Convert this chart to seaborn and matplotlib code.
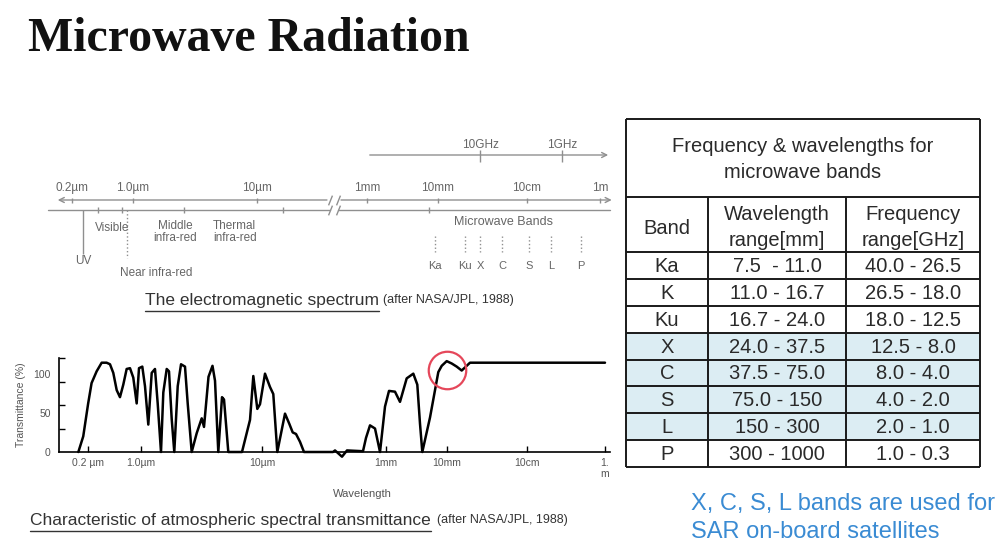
import numpy as np
import matplotlib.pyplot as plt
import seaborn as sns
from matplotlib.lines import Line2D
from matplotlib.ticker import FixedLocator

sns.set_theme(style="white")
plt.rcParams["font.family"] = ["Liberation Sans", "DejaVu Sans"]

# Atmospheric spectral transmittance (after NASA/JPL, 1988), wavelength in um
wavelength_um = [0.149, 0.173, 0.201, 0.223, 0.260, 0.303, 0.352, 0.390, 0.431, 0.478,
                 0.528, 0.584, 0.647, 0.716, 0.791, 0.877, 0.941, 1.025, 1.079, 1.149,
                 1.226, 1.305, 1.374, 1.463, 1.529, 1.631, 1.704, 1.794, 1.884, 2.011,
                 2.142, 2.310, 2.432, 2.624, 2.886, 3.175, 3.317, 3.613, 3.898, 4.089,
                 4.353, 4.672, 4.853, 5.267, 6.834, 7.960, 8.477, 9.145, 9.627, 11.18,
                 13.46, 15.21, 17.65, 23.50, 27.56, 31.27, 35.36, 41.02, 47.58, 139.7,
                 150.5, 195.1, 235.0, 425.6, 475.8, 552.0, 664.7, 800.6, 963.6, 1120,
                 1404, 1696, 2184, 2803, 3260, 3610, 3937, 5264, 7201, 8188,
                 9888, 11450, 13220, 15270, 16790, 19390, 1000000]
transmittance = [0, 20, 62, 88, 103, 114, 114, 112, 101, 79,
                 70, 86, 106, 107, 95, 62, 107, 109, 84, 35,
                 101, 106, 62, 0, 76, 106, 103, 42, 0, 84,
                 112, 109, 62, 0, 24, 43, 32, 96, 110, 91,
                 0, 70, 67, 0, 0, 41, 97, 55, 61, 100,
                 83, 74, 0, 49, 36, 25, 23, 13, 0, 0,
                 2, -6, 2, 1, 18, 34, 30, 0, 58, 78,
                 77, 64, 94, 100, 86, 36, 0, 44, 102, 110,
                 116, 113, 109, 104, 108, 114, 114]

highlight_um = 1e4
highlight_pct = 105

curve_ticks_um = [0.2, 1, 10, 1e3, 1e4, 1e5, 1e6]
curve_tick_labels = ["0.2 µm", "1.0µm", "10µm", "1mm", "10mm", "10cm", "1.\nm"]

# electromagnetic spectrum diagram
spec_ticks_um = [0.2, 1, 10, 1e3, 1e4, 1e5, 1e6]
spec_tick_labels = ["0.2µm", "1.0µm", "10µm", "1mm", "10mm", "10cm", "1m"]
freq_ghz = [10, 1]
freq_labels = ["10GHz", "1GHz"]
region_edges_um = [0.4, 0.75, 2.6, 30, 7500]
uv_um = 0.27
near_ir_um = 0.85
region_names = ["Visible", "Middle\ninfra-red", "Thermal\ninfra-red"]
region_mid_um = [0.57, 2.2, 6.6]

# microwave bands table
bands = ["Ka", "K", "Ku", "X", "C", "S", "L", "P"]
band_wl_mm = [(7.5, 11.0), (11.0, 16.7), (16.7, 24.0), (24.0, 37.5),
              (37.5, 75.0), (75.0, 150), (150, 300), (300, 1000)]
wl_range_text = ["7.5  - 11.0", "11.0 - 16.7", "16.7 - 24.0", "24.0 - 37.5",
                 "37.5 - 75.0", "75.0 - 150", "150 - 300", "300 - 1000"]
freq_range_text = ["40.0 - 26.5", "26.5 - 18.0", "18.0 - 12.5", "12.5 - 8.0",
                   "8.0 - 4.0", "4.0 - 2.0", "2.0 - 1.0", "1.0 - 0.3"]
sar_bands = ["X", "C", "S", "L"]

W, H = 1004, 548
fig = plt.figure(figsize=(W / 100, H / 100), dpi=100)
fig.patch.set_facecolor("white")


def box(x0, y0, x1, y1):
    return [x0 / W, 1 - y1 / H, (x1 - x0) / W, (y1 - y0) / H]


def wl_scale(logs, pos):
    # piecewise log scale, like the hand drawn axes of the original figure
    def fwd(w):
        return np.interp(np.log10(np.maximum(w, 1e-9)), logs, pos)

    def inv(p):
        return 10 ** np.interp(p, pos, logs)
    return fwd, inv


def underline(t, gap=3):
    fig.canvas.draw()
    bb = t.get_window_extent().transformed(fig.transFigure.inverted())
    fig.add_artist(Line2D([bb.x0, bb.x1], [bb.y0 - gap / H, bb.y0 - gap / H],
                          transform=fig.transFigure, color=t.get_color(), lw=1.0))
    return bb


fig.text(28 / W, 1 - 51 / H, "Microwave Radiation", family="Liberation Serif",
         fontweight="bold", fontsize=34.5, color="#111", va="baseline")

# ---- electromagnetic spectrum ----
gray = "#8f8f8f"
tgray = "#666666"
sfont = 8.5
sx = fig.add_axes(box(46, 135, 615, 290))
sx.set_xscale("function", functions=wl_scale([-1.0, np.log10(0.2), 0, 1, 3, 4, 5, 6, 6.2],
                                             [46, 72, 133, 257, 367, 438, 527, 600, 615]))
sx.set_xlim(10 ** -1.0, 10 ** 6.2)
sx.set_ylim(290, 135)
sx.axis("off")

arrow = dict(arrowstyle="->", color=gray, lw=1.0, mutation_scale=9)
break_um = (210, 300)
sx.annotate("", xy=(0.127, 200), xytext=(break_um[0], 200), arrowprops=arrow)
sx.annotate("", xy=(1.56e6, 200), xytext=(break_um[1], 200), arrowprops=arrow)
sx.plot([0.106, break_um[0]], [210, 210], color=gray, lw=1.0)
sx.plot([break_um[1], 1.37e6], [210, 210], color=gray, lw=1.0)
sx.plot(list(break_um) * 2, [200, 200, 210, 210], ls="none", marker=[(-0.4, -1), (0.4, 1)],
        ms=7, mec=gray, mew=1.0)
sx.vlines(spec_ticks_um, 198, 203, color=gray, lw=1.0)
for w, lab in zip(spec_ticks_um, spec_tick_labels):
    sx.text(w, 188, lab, ha="center", va="center", fontsize=sfont, color=tgray)

freq_um = 3e5 / np.array(freq_ghz)
sx.annotate("", xy=(1.4e6, 155), xytext=(1e3, 155), arrowprops=arrow)
sx.vlines(freq_um, 150, 162, color=gray, lw=1.0)
for w, lab in zip(freq_um, freq_labels):
    sx.text(w, 145, lab, ha="center", va="center", fontsize=sfont, color=tgray)

sx.vlines(region_edges_um, 207, 213, color=gray, lw=1.0)
sx.vlines(uv_um, 210, 254, color=gray, lw=1.0)
sx.text(uv_um, 261, "UV", ha="center", va="center", fontsize=sfont, color=tgray)
sx.vlines(near_ir_um, 210, 258, color=gray, lw=1.0, linestyles=":")
sx.text(1.53, 273, "Near infra-red", ha="center", va="center", fontsize=sfont, color=tgray)
for w, lab in zip(region_mid_um, region_names):
    sx.text(w, 232 if "\n" in lab else 228, lab, ha="center", va="center", fontsize=sfont,
            color=tgray, linespacing=1.0)

sx.text(5.4e4, 222, "Microwave Bands", ha="center", va="center", fontsize=9, color=tgray)
for b, (lo, hi) in zip(bands, band_wl_mm):
    if b == "K":
        continue
    c = np.sqrt(lo * hi) * 1000
    sx.vlines(c, 236, 252, color=gray, lw=1.0, linestyles=":")
    sx.text(c, 266, b, ha="center", va="center", fontsize=8, color=tgray)

t1 = fig.text(145 / W, 1 - 300 / H, "The electromagnetic spectrum", fontsize=12.5,
              color="#333", va="center")
bb = underline(t1)
fig.text(bb.x1 + 4 / W, 1 - 300 / H, "(after NASA/JPL, 1988)", fontsize=9, color="#333",
         va="center")

# ---- atmospheric transmittance ----
ax = fig.add_axes(box(59, 358, 610, 452))
ax.set_xscale("function", functions=wl_scale([-1.083, np.log10(0.2), 0, 1, 3, 4, 5, 6, 6.064],
                                             [59, 88, 141, 262, 386, 447, 527, 605, 610]))
sns.lineplot(x=wavelength_um, y=transmittance, ax=ax, color="black", lw=1.8,
             sort=False, estimator=None)
ax.lines[-1].set_clip_on(False)
ax.plot(highlight_um, highlight_pct, "o", ms=27, mfc="none", mec="#e5475a", mew=1.6,
        clip_on=False)
ax.set_xlim(10 ** -1.083, 10 ** 6.064)
ax.set_ylim(0, 120)
ax.set_facecolor("none")
for s in ["top", "right"]:
    ax.spines[s].set_visible(False)
for s in ["left", "bottom"]:
    ax.spines[s].set_color("black")
    ax.spines[s].set_linewidth(1.2)
ax.set_xticks(curve_ticks_um, curve_tick_labels)
ax.set_yticks([0, 50, 100], ["0", "50", "100"])
ax.yaxis.set_minor_locator(FixedLocator([30, 60, 90, 120]))
ax.tick_params(axis="x", direction="in", length=4, width=1, color="black", labelsize=7.5,
               labelcolor="#555", pad=4, bottom=True)
ax.tick_params(axis="y", which="major", length=0, labelsize=7.5, labelcolor="#555", pad=6)
ax.tick_params(axis="y", which="minor", direction="in", length=4, width=1, color="black",
               left=True)
ax.set_xlabel("Wavelength", fontsize=8, color="#555")
ax.xaxis.set_label_coords(0.55, -0.39)
ax.set_ylabel("Transmittance (%)", fontsize=7.5, color="#555", labelpad=5)

t2 = fig.text(30 / W, 1 - 520 / H, "Characteristic of atmospheric spectral transmittance",
              fontsize=12.5, color="#333", va="center")
bb = underline(t2)
fig.text(bb.x1 + 6 / W, 1 - 520 / H, "(after NASA/JPL, 1988)", fontsize=9, color="#333",
         va="center")

# ---- table ----
tx = fig.add_axes(box(626, 119, 980, 467))
tx.set_xlim(0, 354)
tx.set_ylim(348, 0)
tx.axis("off")
col_edges = [0, 82, 220, 354]
col_mid = [(a + b) / 2 for a, b in zip(col_edges[:-1], col_edges[1:])]
title_h, head_h = 78, 55
row_h = (348 - title_h - head_h) / len(bands)
row_top = title_h + head_h + row_h * np.arange(len(bands))

for b, top in zip(bands, row_top):
    if b in sar_bands:
        tx.axhspan(top, top + row_h, color="#dcedf3", lw=0)

line_kw = dict(color="#1a1a1a", lw=1.4, clip_on=False)
tx.hlines([0, title_h, title_h + head_h] + list(row_top[1:]) + [348], 0, 354, **line_kw)
tx.vlines([0, 354], 0, 348, **line_kw)
tx.vlines(col_edges[1:3], title_h, 348, **line_kw)

cell_font = dict(fontsize=14.5, color="#2a2a2a", ha="center", va="center")
tx.text(177, 28, "Frequency & wavelengths for", **cell_font)
tx.text(177, 54, "microwave bands", **cell_font)
tx.text(col_mid[0], 109, "Band", **cell_font)
tx.text(col_mid[1], 96, "Wavelength", **cell_font)
tx.text(col_mid[1], 121, "range[mm]", **cell_font)
tx.text(col_mid[2], 96, "Frequency", **cell_font)
tx.text(col_mid[2], 121, "range[GHz]", **cell_font)
for b, wl, fr, top in zip(bands, wl_range_text, freq_range_text, row_top):
    y = top + row_h / 2 + 1
    tx.text(col_mid[0], y, b, **cell_font)
    tx.text(col_mid[1], y, wl, **cell_font)
    tx.text(col_mid[2], y, fr, **cell_font)

blue = "#3a8bd3"
fig.text(691 / W, 1 - 504 / H, "X, C, S, L bands are used for", fontsize=17, color=blue,
         va="center")
fig.text(691 / W, 1 - 532 / H, "SAR on-board satellites", fontsize=17, color=blue,
         va="center")

fig.savefig("out.png", dpi=100)
